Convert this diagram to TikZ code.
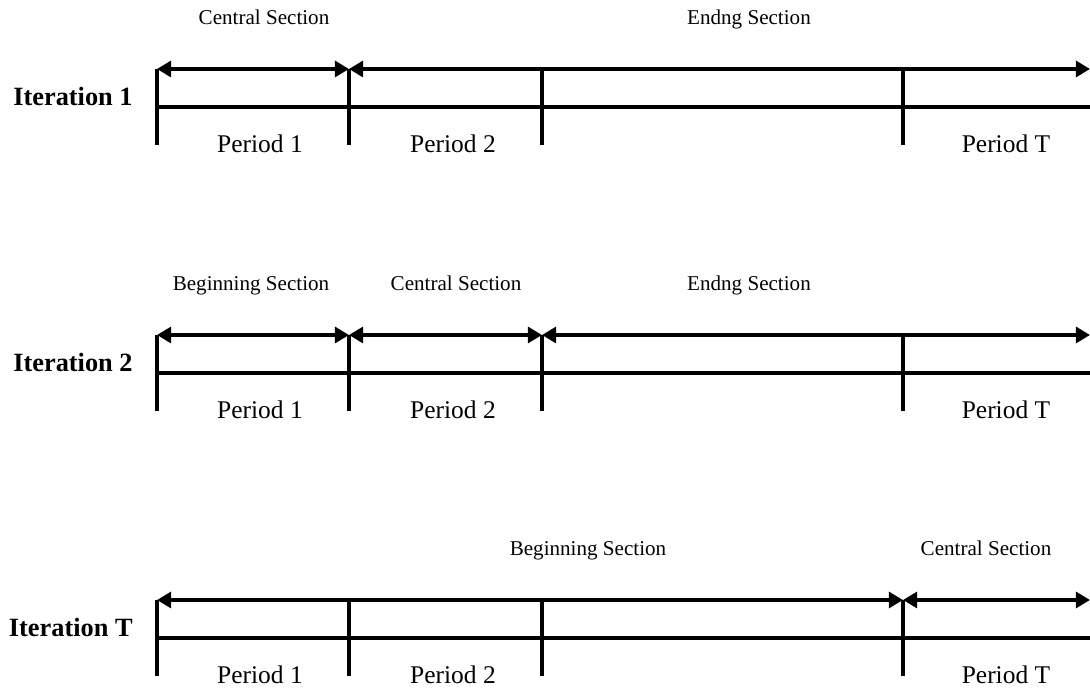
\documentclass[tikz,border=0pt]{standalone}
\usepackage{fontspec}
\setmainfont{Liberation Serif}
\usetikzlibrary{arrows.meta}

\begin{document}
\begin{tikzpicture}[x=0.02cm, y=-0.02cm,
    bar/.style={line width=2pt},
    span/.style={{Triangle[length=8pt,width=9pt]}-{Triangle[length=8pt,width=9pt]}, line width=2pt},
    secname/.style={font=\fontsize{12}{14}\selectfont, anchor=base},
    period/.style={font=\fontsize{14.5}{17}\selectfont},
    iter/.style={font=\fontsize{15}{18}\selectfont\bfseries, anchor=east, inner sep=0pt},
]
\useasboundingbox (0,0) rectangle (1090,688);

% the three time lines
\foreach \r/\y/\it in {1/69/1, 2/335/2, 3/600/T} {
    \coordinate (a\r) at (157,\y);
    \coordinate (b\r) at (349,\y);
    \coordinate (c\r) at (542,\y);
    \coordinate (d\r) at (903,\y);
    \coordinate (e\r) at (1090,\y);
    \coordinate (ml\r) at (157,\y+38);
    \coordinate (mr\r) at (1090,\y+38);
    \foreach \t/\x in {a/157, b/349, c/542, d/903} {
        \coordinate (\t\r low) at (\x,\y+76);
        \draw[bar] (\t\r) -- (\t\r low);
    }
    \draw[bar] (ml\r) -- (mr\r);
    \node[iter] (it\r) at (133,\y+27) {Iteration \it};
    \node[period] (pa\r) at (260,\y+75) {Period 1};
    \node[period] (pb\r) at (453,\y+75) {Period 2};
    \node[period] (pt\r) at (1006,\y+75) {Period T};
}

% Iteration 1
\draw[span] (a1) -- (b1);
\draw[span] (b1) -- (e1);
\node[secname] (cen1) at (264,25) {Central Section};
\node[secname] (end1) at (749,25) {Endng Section};

% Iteration 2
\draw[span] (a2) -- (b2);
\draw[span] (b2) -- (c2);
\draw[span] (c2) -- (e2);
\node[secname] (beg2) at (251,291) {Beginning Section};
\node[secname] (cen2) at (456,291) {Central Section};
\node[secname] (end2) at (749,291) {Endng Section};

% Iteration T
\draw[span] (a3) -- (d3);
\draw[span] (d3) -- (e3);
\node[secname] (beg3) at (588,556) {Beginning Section};
\node[secname] (cen3) at (986,556) {Central Section};

\end{tikzpicture}
\end{document}
